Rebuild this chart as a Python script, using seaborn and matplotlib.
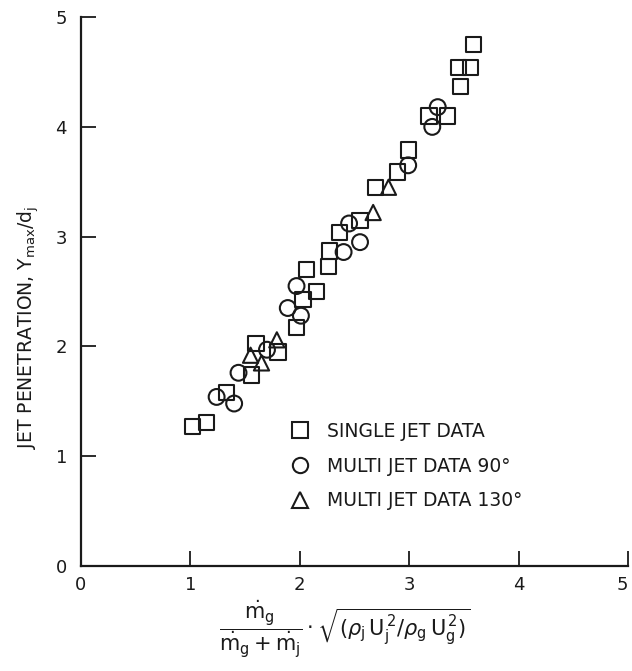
import matplotlib
matplotlib.use("Agg")
import matplotlib.pyplot as plt
from matplotlib.lines import Line2D
import seaborn as sns
import pandas as pd

# ---- data ----
single_x = [1.02, 1.15, 1.33, 1.56, 1.60, 1.80, 1.97, 2.03, 2.06, 2.15, 2.26, 2.27,
            2.36, 2.55, 2.69, 2.89, 2.99, 3.18, 3.35, 3.47, 3.45, 3.56, 3.59]
single_y = [1.27, 1.31, 1.58, 1.74, 2.03, 1.95, 2.17, 2.43, 2.70, 2.50, 2.73, 2.87,
            3.04, 3.15, 3.45, 3.59, 3.79, 4.10, 4.10, 4.37, 4.54, 4.54, 4.75]

multi90_x = [1.24, 1.40, 1.44, 1.70, 1.89, 1.97, 2.01, 2.40, 2.45, 2.55, 2.99, 3.21, 3.26]
multi90_y = [1.54, 1.48, 1.76, 1.97, 2.35, 2.55, 2.28, 2.86, 3.12, 2.95, 3.65, 4.00, 4.18]

multi130_x = [1.55, 1.65, 1.79, 2.67, 2.81]
multi130_y = [1.92, 1.85, 2.06, 3.22, 3.45]

series_names = ["SINGLE JET DATA", "MULTI JET DATA 90\u00b0", "MULTI JET DATA 130\u00b0"]
ticks = [0, 1, 2, 3, 4, 5]
tick_labels = ["0", "1", "2", "3", "4", "5"]

sns.set_theme(style="ticks")
plt.rcParams["font.family"] = ["DejaVu Sans"]
plt.rcParams["mathtext.fontset"] = "dejavusans"

fig = plt.figure(figsize=(6.32, 6.71), dpi=100)
ax = fig.add_axes([0.128, 0.1565, 0.866, 0.818])

df = pd.concat([
    pd.DataFrame({"x": single_x, "y": single_y, "series": series_names[0]}),
    pd.DataFrame({"x": multi90_x, "y": multi90_y, "series": series_names[1]}),
    pd.DataFrame({"x": multi130_x, "y": multi130_y, "series": series_names[2]}),
], ignore_index=True)

markers = {series_names[0]: "s", series_names[1]: "o", series_names[2]: "^"}
sizes = {series_names[0]: 120, series_names[1]: 130, series_names[2]: 120}
for name in series_names:
    sub = df[df["series"] == name]
    sns.scatterplot(data=sub, x="x", y="y", marker=markers[name], s=sizes[name],
                    ax=ax, legend=False, zorder=3)
    coll = ax.collections[-1]
    coll.set_facecolor("none")
    coll.set_edgecolor("#1a1a1a")
    coll.set_linewidth(1.5)

ax.set_xlim(0, 5)
ax.set_ylim(0, 5)
ax.set_xticks(ticks)
ax.set_xticklabels(tick_labels)
ax.set_yticks(ticks)
ax.set_yticklabels(tick_labels)
ax.tick_params(direction="in", length=11, width=1.3, labelsize=13, colors="#1a1a1a")
ax.tick_params(axis="y", pad=10)
ax.tick_params(axis="x", pad=7)
ax.get_xticklabels()[-1].set_horizontalalignment("right")
for s in ["top", "right"]:
    ax.spines[s].set_visible(False)
for s in ["left", "bottom"]:
    ax.spines[s].set_linewidth(1.6)
    ax.spines[s].set_color("#1a1a1a")

ax.set_ylabel(r"JET PENETRATION, $\mathregular{Y_{max}/d_j}$", fontsize=13.5,
              color="#1a1a1a")
ax.yaxis.set_label_coords(-0.072, 0.435)
xlab = (r"$\dfrac{\dot{\mathrm{m}}_\mathrm{g}}{\dot{\mathrm{m}}_\mathrm{g}+\dot{\mathrm{m}}_\mathrm{j}}"
        r"\cdot\sqrt{(\rho_\mathrm{j}\,\mathrm{U}_\mathrm{j}^{\,2}/\rho_\mathrm{g}\,\mathrm{U}_\mathrm{g}^{\,2})}$")
ax.set_xlabel(xlab, fontsize=15, color="#1a1a1a")
ax.xaxis.set_label_coords(0.482, -0.06)

handles = [Line2D([], [], linestyle="none", marker=markers[n], markersize=11,
                  markerfacecolor="none", markeredgecolor="#1a1a1a", markeredgewidth=1.5)
           for n in series_names]
ax.legend(handles, series_names, loc="center left", bbox_to_anchor=(0.366, 0.182),
          frameon=False, fontsize=13.5, handletextpad=0.94, labelspacing=0.84,
          handlelength=1.0, borderpad=0, labelcolor="#1a1a1a")

fig.savefig("out.png", dpi=100)
